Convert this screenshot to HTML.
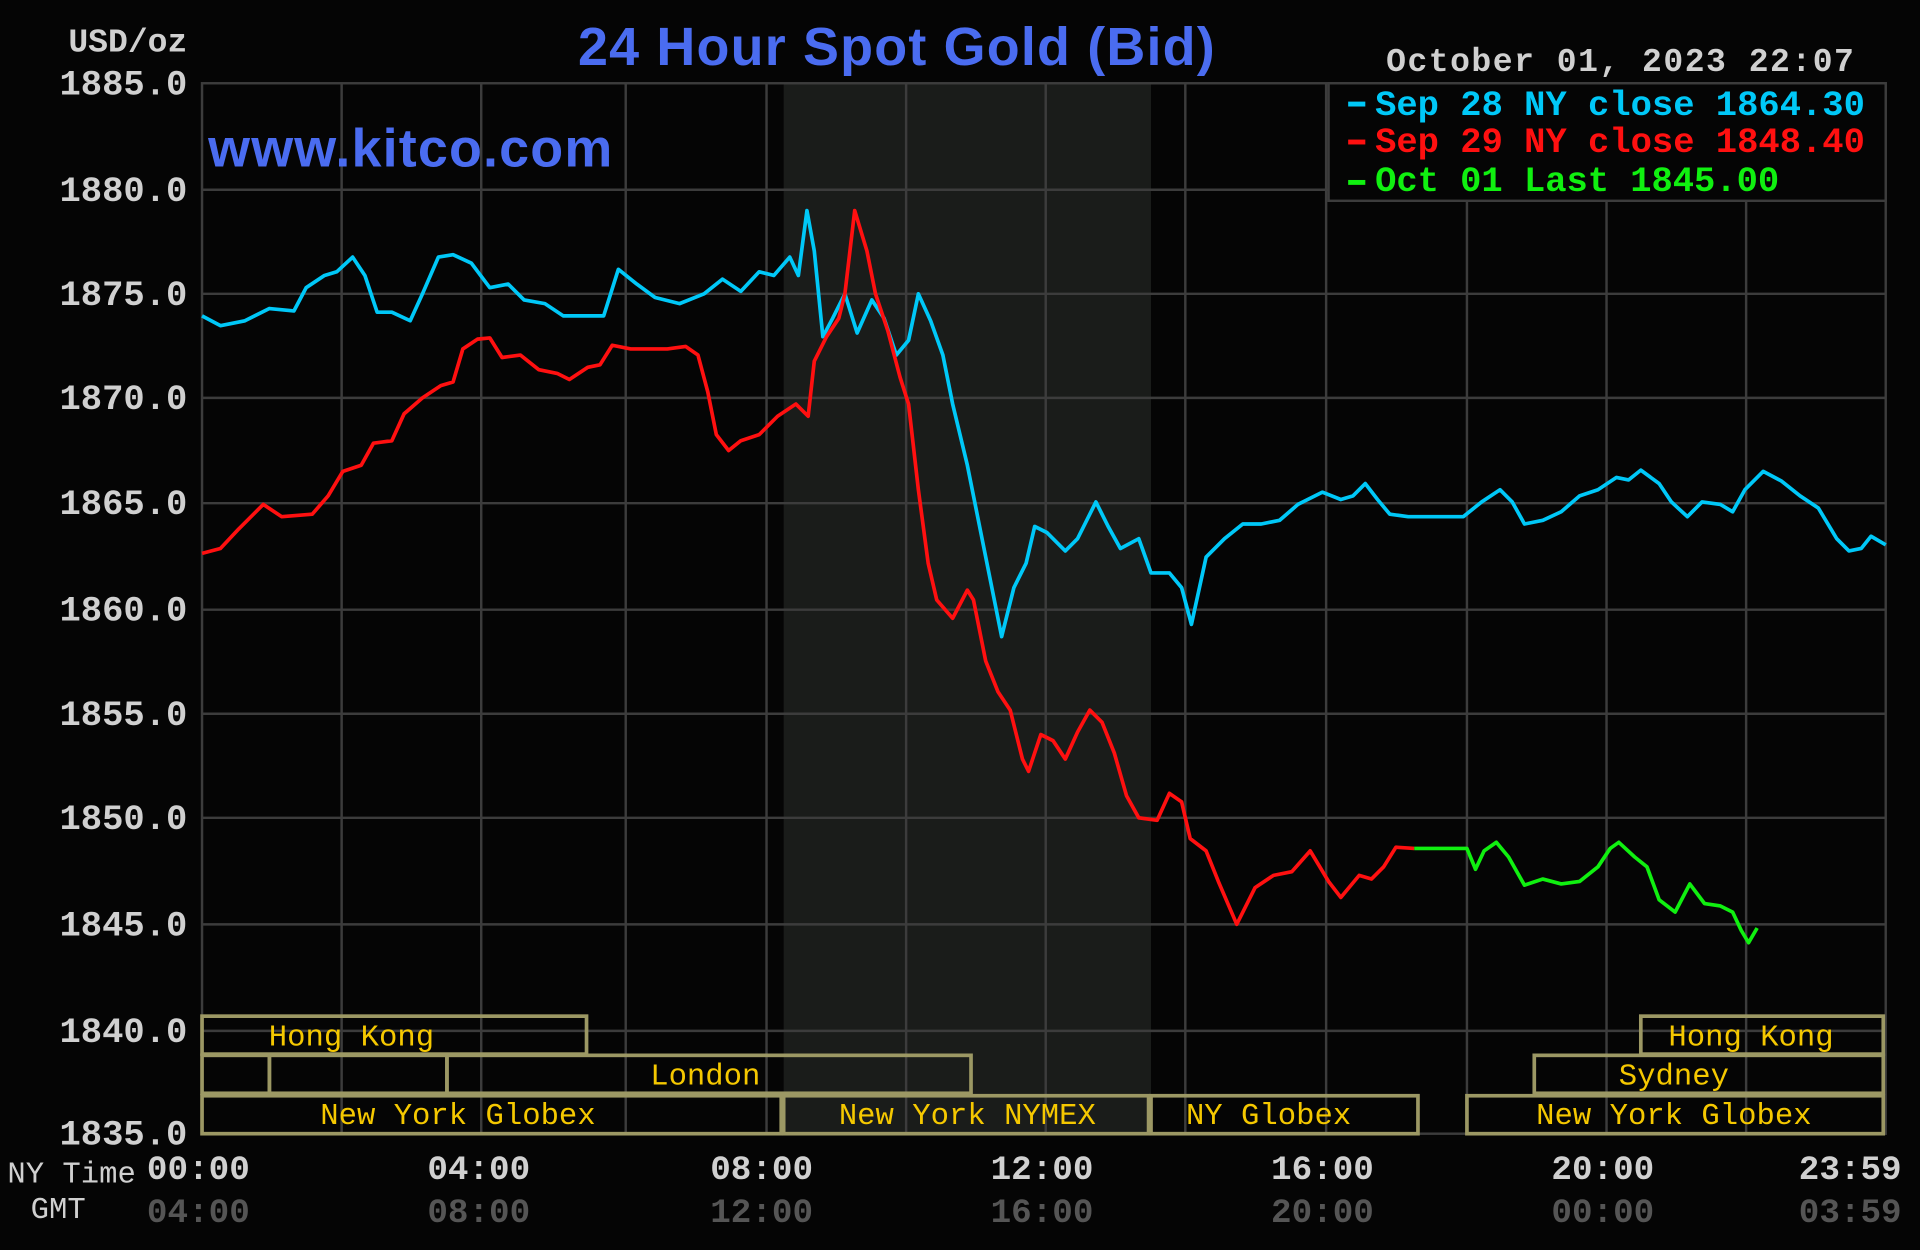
<!DOCTYPE html>
<html><head><meta charset="utf-8"><style>html,body{margin:0;padding:0;background:#050505}svg{display:block}</style></head><body>
<svg width="1920" height="1250" viewBox="0 0 1568 1021" preserveAspectRatio="none" xmlns="http://www.w3.org/2000/svg">
<rect width="1568" height="1021" fill="#050505"/>
<rect x="640" y="68" width="300" height="858" fill="#1a1c1a"/>
<g stroke="#3c3c3c" stroke-width="2">
<line x1="165" y1="155" x2="1540" y2="155"/><line x1="165" y1="240" x2="1540" y2="240"/><line x1="165" y1="325" x2="1540" y2="325"/><line x1="165" y1="411" x2="1540" y2="411"/><line x1="165" y1="498" x2="1540" y2="498"/><line x1="165" y1="583" x2="1540" y2="583"/><line x1="165" y1="668" x2="1540" y2="668"/><line x1="165" y1="755" x2="1540" y2="755"/><line x1="165" y1="842" x2="1540" y2="842"/>
<line x1="279" y1="68" x2="279" y2="926"/><line x1="393" y1="68" x2="393" y2="926"/><line x1="511" y1="68" x2="511" y2="926"/><line x1="626" y1="68" x2="626" y2="926"/><line x1="740" y1="68" x2="740" y2="926"/><line x1="854" y1="68" x2="854" y2="926"/><line x1="968" y1="68" x2="968" y2="926"/><line x1="1083" y1="68" x2="1083" y2="926"/><line x1="1198" y1="68" x2="1198" y2="926"/><line x1="1312" y1="68" x2="1312" y2="926"/><line x1="1426" y1="68" x2="1426" y2="926"/>
<rect x="165" y="68" width="1375" height="858" fill="none"/>
</g>
<g fill="none" stroke="#9c9864" stroke-width="3">
<rect x="165" y="830" width="314" height="31"/><rect x="1340" y="830" width="198" height="31"/>
<rect x="165" y="862" width="55" height="31"/><rect x="220" y="862" width="145" height="31"/><rect x="365" y="862" width="428" height="31"/><rect x="1253" y="862" width="285" height="31"/>
<rect x="165" y="895" width="473" height="31"/><rect x="640" y="895" width="298" height="31"/><rect x="940" y="895" width="218" height="31"/><rect x="1198" y="895" width="340" height="31"/>
</g>
<g font-family="Liberation Mono, monospace" font-size="25" fill="#f5c800" text-anchor="middle">
<text x="287" y="854">Hong Kong</text><text x="1430" y="854">Hong Kong</text>
<text x="576" y="886">London</text><text x="1367" y="886">Sydney</text>
<text x="374" y="918">New York Globex</text><text x="790" y="918">New York NYMEX</text><text x="1036" y="918">NY Globex</text><text x="1367" y="918">New York Globex</text>
</g>
<g font-family="Liberation Mono, monospace" font-weight="bold" font-size="29" fill="#d0d0d0" text-anchor="end">
<text x="153" y="77">1885.0</text><text x="153" y="164">1880.0</text><text x="153" y="249">1875.0</text><text x="153" y="334">1870.0</text><text x="153" y="420">1865.0</text><text x="153" y="507">1860.0</text><text x="153" y="592">1855.0</text><text x="153" y="677">1850.0</text><text x="153" y="764">1845.0</text><text x="153" y="851">1840.0</text><text x="153" y="935">1835.0</text>
<text x="153" y="42" font-size="27">USD/oz</text>
</g>
<g font-family="Liberation Mono, monospace" font-weight="bold" font-size="28" text-anchor="middle">
<g fill="#d0d0d0"><text x="162" y="963">00:00</text><text x="391" y="963">04:00</text><text x="622" y="963">08:00</text><text x="851" y="963">12:00</text><text x="1080" y="963">16:00</text><text x="1309" y="963">20:00</text><text x="1511" y="963">23:59</text></g>
<g fill="#555"><text x="162" y="998">04:00</text><text x="391" y="998">08:00</text><text x="622" y="998">12:00</text><text x="851" y="998">16:00</text><text x="1080" y="998">20:00</text><text x="1309" y="998">00:00</text><text x="1511" y="998">03:59</text></g>
</g>
<g font-family="Liberation Mono, monospace" font-size="25" fill="#d0d0d0"><text x="6" y="966">NY Time</text><text x="25" y="995">GMT</text></g>
<text x="1132" y="58" font-family="Liberation Mono, monospace" font-weight="bold" font-size="27" fill="#d0d0d0" textLength="382">October 01, 2023 22:07</text>
<text x="732" y="53" text-anchor="middle" font-family="Liberation Sans, sans-serif" font-weight="bold" font-size="44" fill="#4a6cf0" textLength="520">24 Hour Spot Gold (Bid)</text>
<text x="170" y="136" font-family="Liberation Sans, sans-serif" font-weight="bold" font-size="44" fill="#4a6cf0" textLength="330">www.kitco.com</text>
<rect x="1085" y="68" width="455" height="96" fill="#050505" stroke="#3c3c3c" stroke-width="2"/>
<rect x="1101" y="83" width="14" height="4" fill="#00c8f8"/>
<rect x="1101" y="114" width="14" height="4" fill="#ff1010"/>
<rect x="1101" y="147" width="14" height="4" fill="#10f010"/>
<g font-family="Liberation Mono, monospace" font-weight="bold" font-size="29">
<text x="1123" y="94" fill="#00c8f8" textLength="400">Sep 28 NY close 1864.30</text>
<text x="1123" y="124" fill="#ff1010" textLength="400">Sep 29 NY close 1848.40</text>
<text x="1123" y="156" fill="#10f010" textLength="330">Oct 01 Last 1845.00</text>
</g>
<g fill="none" stroke-width="3" stroke-linejoin="round">
<polyline stroke="#00c8f8" points="165,258 180,266 200,262 220,252 240,254 250,235 265,225 275,222 288,210 298,225 308,255 320,255 335,262 345,240 358,210 370,208 385,215 400,235 415,232 428,245 445,248 460,258 480,258 493,258 505,220 520,232 535,243 555,248 575,240 590,228 605,238 620,222 632,225 645,210 652,225 659,172 665,205 672,275 680,260 690,240 700,272 712,245 722,260 732,290 742,278 750,240 760,262 770,290 778,330 790,380 798,420 808,470 818,520 828,480 838,460 845,430 855,435 870,450 880,440 895,410 905,430 915,448 930,440 940,468 955,468 965,480 973,510 985,455 1000,440 1015,428 1030,428 1045,425 1060,412 1080,402 1095,408 1105,405 1115,395 1125,408 1135,420 1150,422 1195,422 1210,410 1225,400 1235,410 1245,428 1260,425 1275,418 1290,405 1305,400 1320,390 1330,392 1340,384 1355,395 1365,410 1378,422 1390,410 1405,412 1415,418 1425,400 1440,385 1455,393 1470,405 1485,415 1500,440 1510,450 1520,448 1528,438 1540,445"/>
<polyline stroke="#ff1010" points="165,452 180,448 195,432 215,412 230,422 255,420 268,405 280,385 295,380 305,362 320,360 330,338 345,325 360,315 370,312 378,285 390,277 400,276 410,292 425,290 440,302 455,305 465,310 480,300 490,298 500,282 515,285 530,285 545,285 560,283 570,290 578,320 585,355 595,368 605,360 620,355 635,340 650,330 660,340 665,295 675,275 685,260 690,240 698,172 708,205 715,240 725,270 735,308 742,330 750,400 758,460 765,490 778,505 790,482 795,490 805,540 815,565 825,580 835,620 840,630 850,600 860,605 870,620 880,598 890,580 900,590 910,615 920,650 930,668 945,670 955,648 965,655 972,685 985,695 995,720 1010,755 1025,725 1040,715 1055,712 1070,695 1085,720 1095,733 1110,715 1120,718 1130,708 1140,692 1155,693"/>
<polyline stroke="#10f010" points="1155,693 1198,693 1205,710 1212,695 1222,688 1232,700 1245,723 1260,718 1275,722 1290,720 1305,708 1315,693 1322,688 1335,700 1345,708 1355,735 1368,745 1380,722 1392,738 1405,740 1415,745 1422,760 1428,770 1435,758"/>
</g>
</svg>
</body></html>
